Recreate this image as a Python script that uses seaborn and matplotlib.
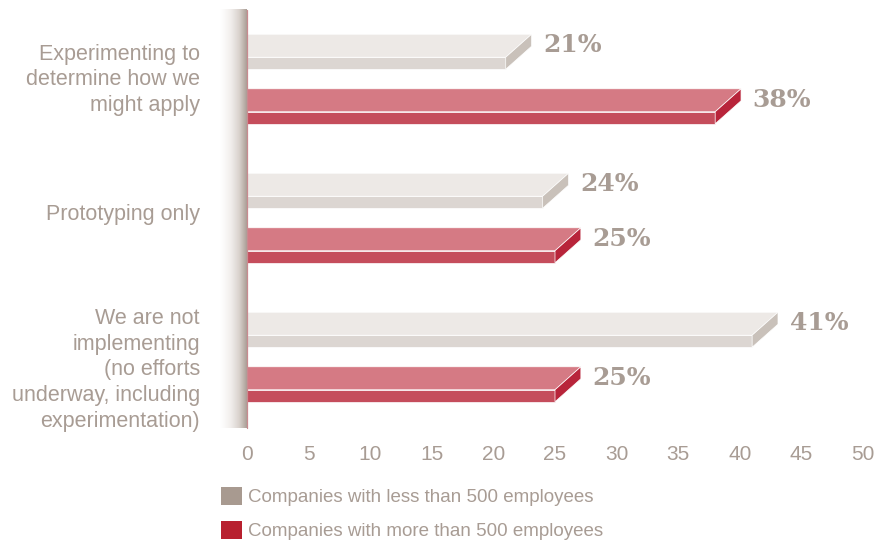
import numpy as np
import pandas as pd
import matplotlib
matplotlib.use("Agg")
import matplotlib.pyplot as plt
import matplotlib.transforms as mtransforms
from matplotlib.colors import LinearSegmentedColormap
from matplotlib.patches import Polygon, Patch
import seaborn as sns

categories = [
    "Experimenting to\ndetermine how we\nmight apply",
    "Prototyping only",
    "We are not\nimplementing\n(no efforts\nunderway, including\nexperimentation)",
]
series_names = [
    "Companies with less than 500 employees",
    "Companies with more than 500 employees",
]
small_companies = [21, 24, 41]
large_companies = [38, 25, 25]
x_ticks = [0, 5, 10, 15, 20, 25, 30, 35, 40, 45, 50]

df = pd.DataFrame({
    "category": categories * 2,
    "group": [series_names[0]] * 3 + [series_names[1]] * 3,
    "value": small_companies + large_companies,
})

sns.set_style("white")
plt.rcParams["font.family"] = ["Liberation Sans", "DejaVu Sans"]

TEXT = "#a89c94"
faces = {
    series_names[0]: dict(top="#ede9e6", front="#dcd6d2", side="#c9c1ba", legend="#a89a90"),
    series_names[1]: dict(top="#d57a84", front="#c54d5c", side="#b8243a", legend="#b8202f"),
}

W, H = 876, 545
fig = plt.figure(figsize=(W / 100, H / 100), dpi=100)
ax = fig.add_axes([247 / W, (H - 428) / H, 616 / W, 418 / H])

sns.barplot(data=df, x="value", y="category", hue="group", orient="h",
            width=0.785, dodge=True, palette=[faces[s]["front"] for s in series_names],
            legend=False, ax=ax, saturation=1)

px = 1 / 139.0           # one pixel in category units
depth_x = 2.1            # 3D depth along x (data units)
top_h = 23 * px          # projected height of the top face
front_h = 12 * px        # thickness of the front face

for name, container in zip(series_names, ax.containers):
    col = faces[name]
    for bar in container:
        v = bar.get_width()
        c = bar.get_y() + bar.get_height() / 2
        yb = c + 5.5 * px
        yt = yb - top_h
        bar.set_y(yb)
        bar.set_height(front_h)
        bar.set_edgecolor("white")
        bar.set_linewidth(0.5)
        ax.add_patch(Polygon([(0, yb), (v, yb), (v + depth_x, yt), (0, yt)],
                             closed=True, facecolor=col["top"], edgecolor="white",
                             linewidth=0.5, zorder=bar.get_zorder()))
        ax.add_patch(Polygon([(v, yb), (v + depth_x, yt), (v + depth_x, yt + front_h),
                              (v, yb + front_h)],
                             closed=True, facecolor=col["side"], edgecolor="white",
                             linewidth=0.5, zorder=bar.get_zorder()))
        ax.text(v + depth_x + 0.95, yt + 11 * px, f"{v:.0f}%", ha="left", va="center",
                fontsize=18, fontweight="bold", color=TEXT, family="DejaVu Serif")

ylim = ((428 - 79) * px, (10 - 79) * px)
ax.set_xlim(0, 50)
ax.set_ylim(*ylim)

# shaded back wall
wall = LinearSegmentedColormap.from_list("wall", ["#ffffff", "#f1eeec", "#d9d2cd", "#aa9e96"])
grad = np.linspace(0, 1, 256)[None, :] ** 1.2
ax.imshow(grad, cmap=wall, aspect="auto", extent=(-27 / 12.32, 0, ylim[0], ylim[1]),
          clip_on=False, zorder=0.5)
ax.plot([0, 0], list(ylim), color="#c98a90", lw=0.9, clip_on=False, zorder=3)
ax.set_xlim(0, 50)
ax.set_ylim(*ylim)

for s in ax.spines.values():
    s.set_visible(False)
ax.set_xlabel("")
ax.set_ylabel("")
ax.set_xticks(x_ticks)
ax.set_xticklabels([str(t) for t in x_ticks])
ax.tick_params(axis="x", length=0, pad=12, labelsize=15, labelcolor=TEXT)
ax.tick_params(axis="y", length=0, pad=34, labelsize=15.5, labelcolor=TEXT)
# small vertical nudges of the multi-line category labels (in pixels)
label_shift = [4, 6, -8]
for lbl, dy in zip(ax.get_yticklabels(), label_shift):
    lbl.set_linespacing(1.30)
    lbl.set_horizontalalignment("right")
    lbl.set_transform(lbl.get_transform() +
                      mtransforms.ScaledTranslation(0, dy / 100, fig.dpi_scale_trans))

handles = [Patch(facecolor=faces[s]["legend"], edgecolor="none", label=s) for s in series_names]
fig.legend(handles=handles, loc="upper left", bbox_to_anchor=(213 / W, 1 - 479 / H),
           frameon=False, fontsize=13.5, labelcolor=TEXT, handlelength=1.12, handleheight=1.12,
           handletextpad=0.37, labelspacing=0.8, borderaxespad=0)

fig.savefig("out.png", dpi=100, facecolor="white")
